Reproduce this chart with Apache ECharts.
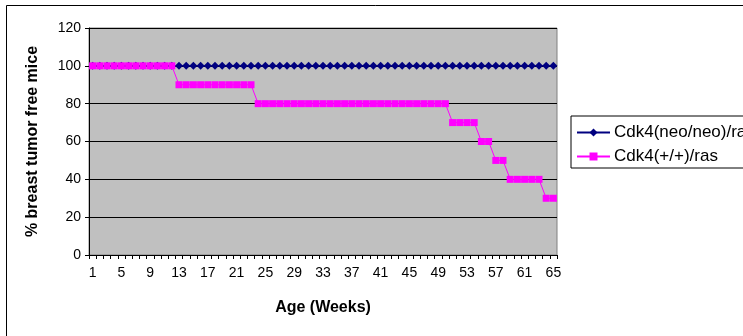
<!DOCTYPE html>
<html><head><meta charset="utf-8">
<script src="https://cdn.jsdelivr.net/npm/echarts@6/dist/echarts.min.js"></script>
<style>html,body{margin:0;padding:0;background:#fff}#c{width:743px;height:336px}</style>
</head><body><div id="c"></div>
<script>
const weeks = [];
for (let i = 1; i <= 65; i++) weeks.push(String(i));
const neoNeo = [100,100,100,100,100,100,100,100,100,100,100,100,100,100,100,100,100,100,100,100,100,100,100,100,100,100,100,100,100,100,100,100,100,100,100,100,100,100,100,100,100,100,100,100,100,100,100,100,100,100,100,100,100,100,100,100,100,100,100,100,100,100,100,100,100];
const wildType = [100,100,100,100,100,100,100,100,100,100,100,100,
  90,90,90,90,90,90,90,90,90,90,90,
  80,80,80,80,80,80,80,80,80,80,80,80,80,80,80,80,80,80,80,80,80,80,80,80,80,80,80,
  70,70,70,70,
  60,60,
  50,50,
  40,40,40,40,40,
  30,30];
const seriesNames = ['Cdk4(neo/neo)/ras', 'Cdk4(+/+)/ras'];

const chart = echarts.init(document.getElementById('c'), null, {renderer: 'canvas'});
const font = 'Liberation Sans, Arial, sans-serif';
chart.setOption({
  animation: false,
  backgroundColor: '#fff',
  textStyle: {fontFamily: font},
  graphic: [{type: 'rect', shape: {x: 6.5, y: 5.5, width: 800, height: 400}, style: {fill: 'none', stroke: '#000', lineWidth: 1}, silent: true}],
  grid: {left: 89, right: 186, top: 28, bottom: 81, show: true, backgroundColor: '#C0C0C0', borderColor: '#808080', borderWidth: 1},
  legend: {
    orient: 'vertical', left: 571, top: 116,
    padding: [8, 60, 3, 5], itemGap: 7, itemWidth: 33, itemHeight: 10,
    borderColor: '#000', borderWidth: 1, backgroundColor: '#fff',
    textStyle: {fontFamily: font, fontSize: 17, color: '#000', padding: [0, 0, 0, -1]},
    data: seriesNames
  },
  xAxis: {
    type: 'category', data: weeks, boundaryGap: true,
    name: 'Age (Weeks)', nameLocation: 'middle', nameGap: 45,
    nameTextStyle: {fontFamily: font, fontSize: 16, fontWeight: 'bold', color: '#000'},
    axisLine: {lineStyle: {color: '#000', width: 1}},
    axisTick: {show: true, interval: 0, length: 4, lineStyle: {color: '#000'}},
    axisLabel: {interval: 3, fontSize: 14, color: '#000', fontFamily: font, margin: 11},
    splitLine: {show: false}
  },
  yAxis: {
    type: 'value', min: 0, max: 120, interval: 20,
    name: '% breast tumor free mice', nameLocation: 'middle', nameGap: 48,
    nameTextStyle: {fontFamily: font, fontSize: 16, fontWeight: 'bold', color: '#000'},
    axisLine: {show: true, lineStyle: {color: '#000', width: 1}},
    axisTick: {show: true, length: 4, lineStyle: {color: '#000'}},
    axisLabel: {fontSize: 14, color: '#000', fontFamily: font, margin: 8},
    splitLine: {show: true, lineStyle: {color: '#000', width: 1}}
  },
  series: [
    {name: seriesNames[0], type: 'line', data: neoNeo, symbol: 'diamond', symbolSize: 8, showAllSymbol: true,
     itemStyle: {color: '#000080'}, lineStyle: {color: '#000080', width: 1}},
    {name: seriesNames[1], type: 'line', data: wildType, symbol: 'rect', symbolSize: 7, showAllSymbol: true,
     itemStyle: {color: '#FF00FF'}, lineStyle: {color: '#FF00FF', width: 1}}
  ]
});
</script></body></html>
